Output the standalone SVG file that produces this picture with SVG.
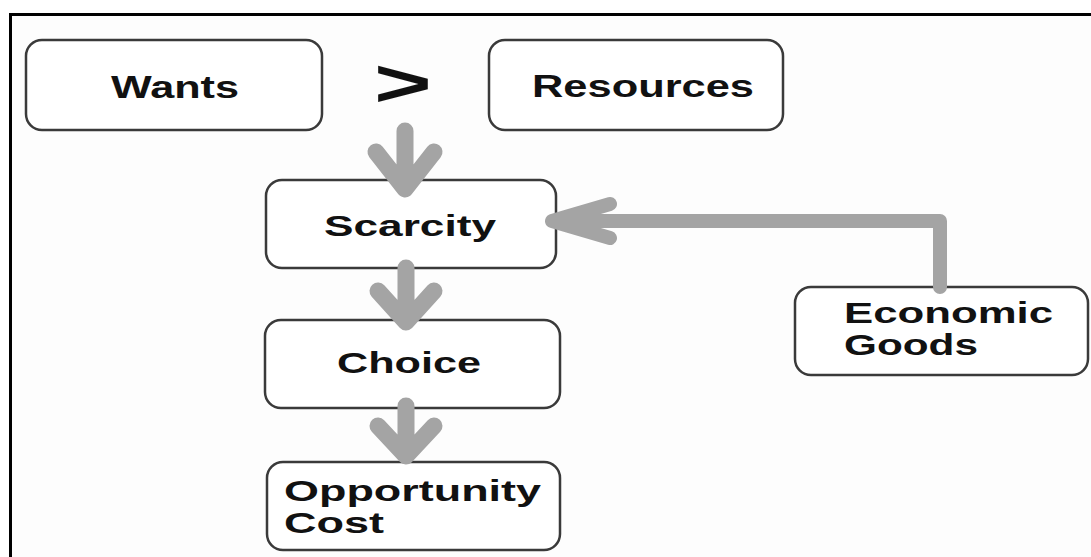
<svg xmlns="http://www.w3.org/2000/svg" width="1091" height="557" viewBox="0 0 1091 557">
  <defs>
    <style>
      .box { fill: #ffffff; stroke: #3a3a3a; stroke-width: 2.5; }
      .lbl { font-family: "Liberation Sans", Arial, sans-serif; font-weight: bold; fill: #111111; }
      .flow { fill: none; stroke: #a4a4a4; stroke-linecap: round; stroke-linejoin: round; }
    </style>
  </defs>

  <!-- page -->
  <rect x="0" y="0" width="1091" height="557" fill="#ffffff"/>
  <rect x="10.5" y="14.5" width="1100" height="600" fill="#fdfdfd" stroke="#000000" stroke-width="3"/>

  <g id="wants">
    <rect class="box" x="26" y="40" width="296" height="90" rx="16"/>
    <text class="lbl" x="111" y="98" font-size="32" textLength="128" lengthAdjust="spacingAndGlyphs">Wants</text>
  </g>

  <g id="greater-than">
    <text class="lbl" x="0" y="0" font-size="66" transform="translate(374 106) scale(1.5 1)">&gt;</text>
  </g>

  <g id="resources">
    <rect class="box" x="489" y="40" width="294" height="90" rx="16"/>
    <text class="lbl" x="532" y="97" font-size="32" textLength="222" lengthAdjust="spacingAndGlyphs">Resources</text>
  </g>

  <g id="scarcity">
    <rect class="box" x="266" y="180" width="290" height="88" rx="16"/>
    <text class="lbl" x="324" y="236" font-size="30" textLength="172" lengthAdjust="spacingAndGlyphs">Scarcity</text>
  </g>

  <g id="choice">
    <rect class="box" x="265" y="320" width="295" height="88" rx="16"/>
    <text class="lbl" x="337" y="373" font-size="30" textLength="144" lengthAdjust="spacingAndGlyphs">Choice</text>
  </g>

  <g id="opportunity-cost">
    <rect class="box" x="267" y="462" width="293" height="88" rx="16"/>
    <text class="lbl" x="284" y="501" font-size="30" textLength="257" lengthAdjust="spacingAndGlyphs">Opportunity</text>
    <text class="lbl" x="284" y="533" font-size="30" textLength="100" lengthAdjust="spacingAndGlyphs">Cost</text>
  </g>

  <g id="economic-goods">
    <rect class="box" x="795" y="287" width="293" height="88" rx="16"/>
    <text class="lbl" x="844" y="323" font-size="30" textLength="209" lengthAdjust="spacingAndGlyphs">Economic</text>
    <text class="lbl" x="844" y="355" font-size="30" textLength="134" lengthAdjust="spacingAndGlyphs">Goods</text>
  </g>

  <g id="connectors">
    <!-- wants/resources down to scarcity -->
    <path class="flow" stroke-width="17" d="M405 131 V189 M376 152 L405 189 L434 152"/>
    <!-- scarcity down to choice -->
    <path class="flow" stroke-width="17" d="M406 268 V322 M378 291 L406 322 L434 291"/>
    <!-- choice down to opportunity cost -->
    <path class="flow" stroke-width="17" d="M406 406 V456 M378 426 L406 456 L434 426"/>
    <!-- economic goods back to scarcity -->
    <path class="flow" stroke-width="14" d="M940 287 V221 H552 M610 204 L552 221 L610 238"/>
  </g>
</svg>
